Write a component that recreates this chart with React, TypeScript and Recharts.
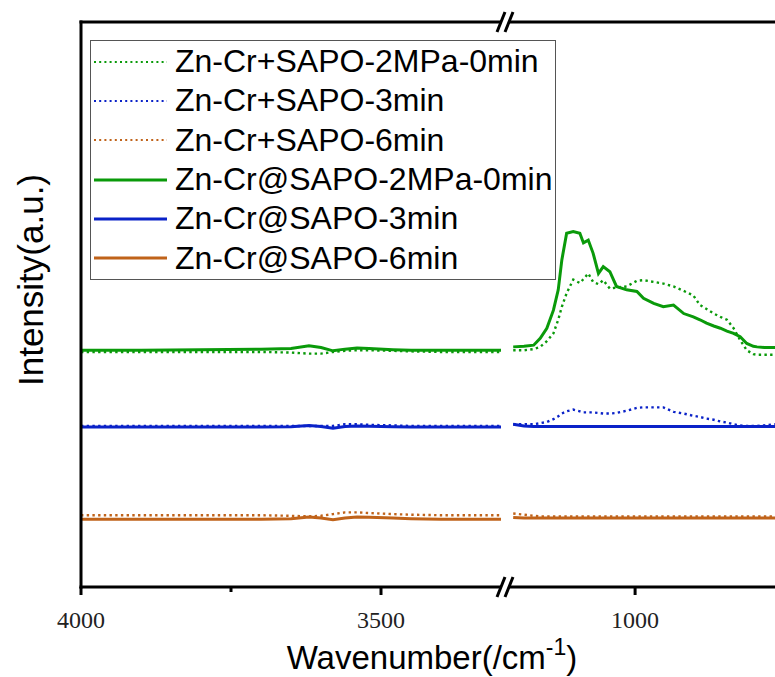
import React from 'react';
import { LineChart, Line, XAxis, YAxis, Legend } from 'recharts';

// wavenumber grids for the two halves of the broken axis
const leftWn = [4000, 3900, 3800, 3700, 3650, 3620, 3600, 3580, 3560, 3540, 3520, 3480, 3450, 3400, 3350, 3300];
const rightWn = [1203, 1185, 1169, 1158, 1147, 1136, 1128, 1122, 1114, 1103, 1092, 1086, 1078, 1070, 1061, 1053, 1042,
  1031, 1014, 997, 986, 969, 953, 936, 919, 903, 892, 881, 869, 858, 847, 836, 825, 814, 803, 797, 785, 767];

// Zn-Cr+SAPO (physical mix, dotted)
const mixGreenL = [41.6, 41.6, 41.6, 41.6, 41.5, 41.3, 41.3, 41.6, 41.8, 41.9, 41.9, 41.8, 41.7, 41.6, 41.6, 41.6];
const mixGreenR = [41.9, 41.9, 42.1, 42.5, 43.5, 44.9, 47.3, 49.6, 52.0, 54.4, 53.8, 54.5, 55.5, 54.0, 53.6, 54.3, 52.8,
  53.0, 53.2, 54.2, 54.3, 54.0, 53.7, 53.2, 52.4, 51.6, 49.9, 49.2, 48.4, 47.8, 47.3, 45.8, 43.7, 41.9, 41.2, 41.1, 41.1, 41.1];
const mixBlueL = [28.5, 28.5, 28.5, 28.5, 28.5, 28.5, 28.5, 28.5, 28.8, 28.8, 28.7, 28.6, 28.5, 28.5, 28.5, 28.5];
const mixBlueR = [28.8, 28.8, 28.8, 29.0, 29.2, 29.7, 30.2, 30.7, 31.1, 31.4, 31.1, 30.9, 30.9, 30.9, 30.8, 30.7, 30.7,
  30.8, 31.2, 31.7, 31.8, 31.8, 31.8, 31.0, 30.7, 30.3, 30.1, 29.8, 29.6, 29.3, 29.1, 28.8, 28.6, 28.5, 28.5, 28.5, 28.6, 28.8];
const mixOrangeL = [12.7, 12.7, 12.7, 12.7, 12.6, 12.5, 12.6, 12.9, 13.2, 13.2, 13.1, 12.9, 12.8, 12.7, 12.7, 12.7];
const mixOrangeR = [13.0, 12.8, 12.6, 12.5, 12.5, 12.5, 12.5, 12.5, 12.5, 12.5, 12.5, 12.5, 12.5, 12.5, 12.5, 12.5, 12.5,
  12.5, 12.5, 12.5, 12.5, 12.5, 12.5, 12.5, 12.5, 12.5, 12.5, 12.5, 12.5, 12.5, 12.5, 12.5, 12.5, 12.5, 12.5, 12.5, 12.5, 12.5];

// Zn-Cr@SAPO (core-shell, solid)
const csGreenL = [41.9, 41.9, 42.0, 42.1, 42.2, 42.7, 42.4, 41.8, 42.1, 42.3, 42.2, 42.0, 41.9, 41.9, 41.9, 41.9];
const csGreenR = [42.5, 42.6, 42.8, 44.0, 45.8, 49.0, 52.6, 57.9, 62.6, 62.9, 62.6, 60.9, 61.4, 59.1, 55.5, 56.7, 55.8,
  53.2, 52.6, 52.3, 51.1, 50.2, 49.6, 49.9, 48.4, 47.8, 47.3, 46.7, 46.2, 45.8, 45.3, 44.9, 44.3, 43.1, 42.6, 42.5, 42.4, 42.4];
const csBlueL = [28.3, 28.3, 28.3, 28.3, 28.35, 28.6, 28.4, 28.1, 28.4, 28.5, 28.45, 28.35, 28.3, 28.3, 28.3, 28.3];
const csBlueR = [28.8, 28.5, 28.4, 28.4, 28.4, 28.4, 28.4, 28.4, 28.4, 28.4, 28.4, 28.4, 28.4, 28.4, 28.4, 28.4, 28.4,
  28.4, 28.4, 28.4, 28.4, 28.4, 28.4, 28.4, 28.4, 28.4, 28.4, 28.4, 28.4, 28.4, 28.4, 28.4, 28.4, 28.4, 28.4, 28.4, 28.4, 28.4];
const csOrangeL = [12.0, 12.0, 12.0, 12.0, 12.1, 12.4, 12.2, 11.9, 12.2, 12.4, 12.35, 12.2, 12.1, 12.0, 12.0, 12.0];
const csOrangeR = [12.3, 12.2, 12.2, 12.2, 12.2, 12.2, 12.2, 12.2, 12.2, 12.2, 12.2, 12.2, 12.2, 12.2, 12.2, 12.2, 12.2,
  12.2, 12.2, 12.2, 12.2, 12.2, 12.2, 12.2, 12.2, 12.2, 12.2, 12.2, 12.2, 12.2, 12.2, 12.2, 12.2, 12.2, 12.2, 12.2, 12.2, 12.2];

const names = [
  'Zn-Cr+SAPO-2MPa-0min',
  'Zn-Cr+SAPO-3min',
  'Zn-Cr+SAPO-6min',
  'Zn-Cr@SAPO-2MPa-0min',
  'Zn-Cr@SAPO-3min',
  'Zn-Cr@SAPO-6min',
];
const colors = ['#0a9a0a', '#0a22c8', '#c0631a', '#0a9a0a', '#0a22c8', '#c0631a'];
const dotted = [true, true, true, false, false, false];
const leftVals = [mixGreenL, mixBlueL, mixOrangeL, csGreenL, csBlueL, csOrangeL];
const rightVals = [mixGreenR, mixBlueR, mixOrangeR, csGreenR, csBlueR, csOrangeR];

const leftTicks = [4000, 3750, 3500];
const rightTicks = [1000];
const minorTicks = [3750];

const toPts = (wn: number[], vals: number[]) => wn.map((w, i) => ({ w, v: vals[i] }));

const AX = { stroke: '#000', strokeWidth: 3, strokeLinecap: 'square' as const };
const SANS = "'Liberation Sans', Arial, sans-serif";

const Tick = ({ x, y, payload }: any) => {
  const axisY = y - 8;
  const minor = minorTicks.includes(payload.value);
  return (
    <g>
      <line x1={x} x2={x} y1={axisY} y2={axisY + (minor ? 5 : 8)} stroke="#000" strokeWidth={3} />
      {!minor && (
        <text x={x} y={axisY + 41} textAnchor="middle" fontFamily="'Liberation Serif', serif" fontSize={24} fill="#222">
          {payload.value}
        </text>
      )}
    </g>
  );
};

const renderLegend = () => (
  <div style={{ border: '1.5px solid #555', background: '#fff', padding: '1px 0', boxSizing: 'border-box' }}>
    {names.map((n, i) => (
      <div key={n} style={{ display: 'flex', alignItems: 'center', height: 39.3 }}>
        <svg width={80} height={10} style={{ marginLeft: 2, flex: 'none' }}>
          <line x1={1} x2={74} y1={5} y2={5} stroke={colors[i]}
            strokeWidth={dotted[i] ? 2.2 : 3} strokeDasharray={dotted[i] ? '2 3.2' : undefined} />
        </svg>
        <span style={{ fontFamily: SANS, fontSize: 32, color: '#000', marginLeft: 2, whiteSpace: 'nowrap' }}>
          {n}
        </span>
      </div>
    ))}
  </div>
);

const series = (vals: number[][], wn: number[]) =>
  vals.map((v, i) => (
    <Line key={names[i]} data={toPts(wn, v)} dataKey="v" xAxisId="b" yAxisId="y" type="linear"
      stroke={colors[i]} strokeWidth={dotted[i] ? 2.4 : 3} strokeDasharray={dotted[i] ? '2.4 3.3' : undefined}
      dot={false} activeDot={false} isAnimationActive={false} legendType="none" />
  ));

const Breaks = ({ y }: { y: number }) => (
  <g>
    <rect x={502} y={y - 3} width={6} height={6} fill="#fff" />
    <line x1={497} y1={y + 10} x2={505} y2={y - 10} stroke="#000" strokeWidth={3} />
    <line x1={505} y1={y + 10} x2={513} y2={y - 10} stroke="#000" strokeWidth={3} />
  </g>
);

export default function App() {
  return (
    <div style={{ position: 'absolute', left: 0, top: 0, width: 775, height: 677, overflow: 'hidden', background: '#fff' }}>
      <div style={{ position: 'absolute', left: 0, top: 0 }}>
        <LineChart width={501} height={677} margin={{ top: 21, right: 0, bottom: 30, left: 80 }}>
          <XAxis xAxisId="b" type="number" dataKey="w" domain={[3300, 4000]} reversed allowDataOverflow
            ticks={leftTicks} interval={0} height={60} tickSize={8} tickMargin={0} tickLine={false}
            axisLine={AX} tick={<Tick />} />
          <XAxis xAxisId="t" orientation="top" type="number" dataKey="w" domain={[3300, 4000]} reversed
            height={1} tick={false} tickLine={false} axisLine={AX} />
          <YAxis yAxisId="y" type="number" domain={[0, 100]} width={1} tick={false} tickLine={false} axisLine={AX} />
          <Legend layout="vertical" align="center" verticalAlign="middle" content={renderLegend}
            wrapperStyle={{ left: 90, top: 40, width: 466 }} />
          {series(leftVals, leftWn)}
        </LineChart>
      </div>
      <div style={{ position: 'absolute', left: 509, top: 0 }}>
        <LineChart width={266} height={677} margin={{ top: 21, right: 0, bottom: 30, left: 0 }}>
          <XAxis xAxisId="b" type="number" dataKey="w" domain={[767, 1210]} reversed allowDataOverflow
            ticks={rightTicks} interval={0} height={60} tickSize={8} tickMargin={0} tickLine={false}
            axisLine={AX} tick={<Tick />} />
          <XAxis xAxisId="t" orientation="top" type="number" dataKey="w" domain={[767, 1210]} reversed
            height={1} tick={false} tickLine={false} axisLine={AX} />
          <YAxis yAxisId="y" type="number" domain={[0, 100]} hide />
          {series(rightVals, rightWn)}
        </LineChart>
      </div>
      <svg width={775} height={677} style={{ position: 'absolute', left: 0, top: 0, pointerEvents: 'none' }}>
        <Breaks y={22} />
        <Breaks y={587} />
        <text x={432} y={669} textAnchor="middle" fontFamily={SANS} fontSize={33} fill="#000">
          Wavenumber(/cm<tspan dy={-14} fontSize={23}>-1</tspan><tspan dy={14}>)</tspan>
        </text>
        <text transform="translate(43, 280) rotate(-90)" textAnchor="middle"
          fontFamily={SANS} fontSize={35} fill="#000">
          Intensity(a.u.)
        </text>
      </svg>
    </div>
  );
}
